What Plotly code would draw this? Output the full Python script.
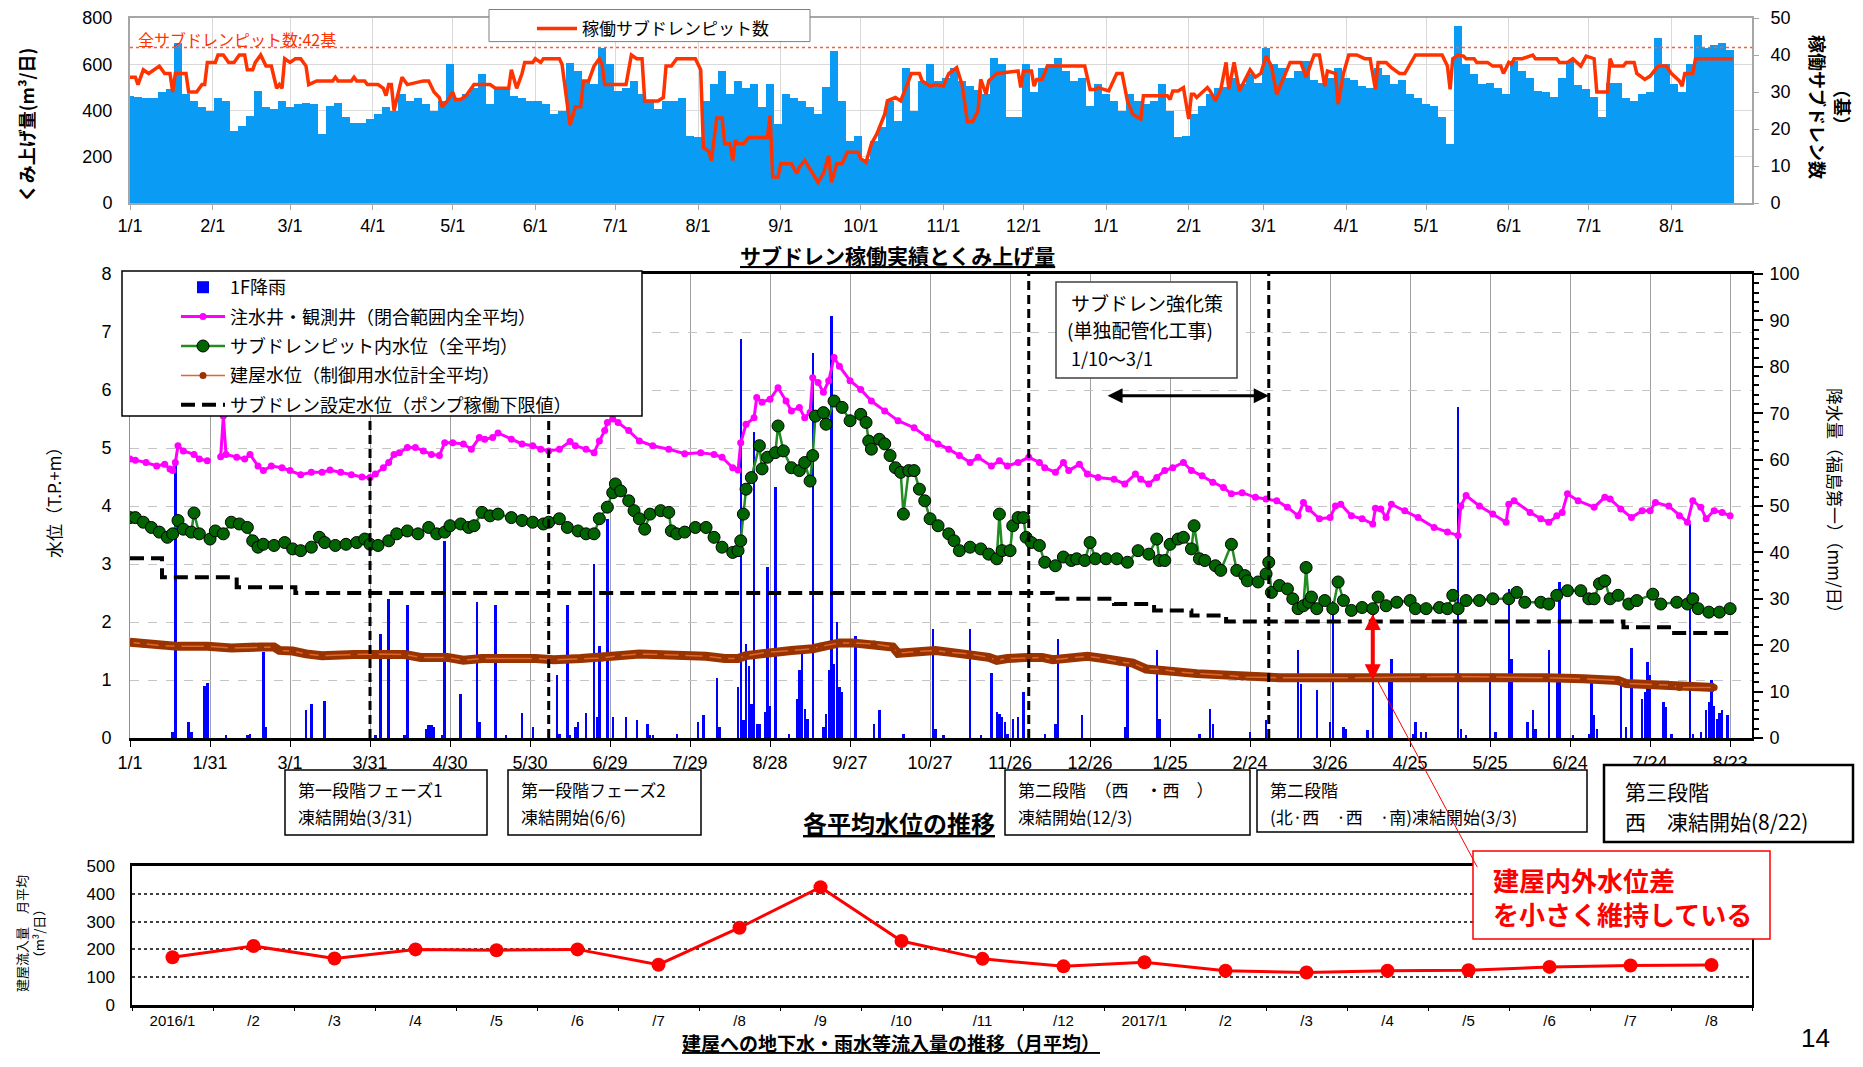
import pandas as pd
import plotly.graph_objects as go

W, H = 1863, 1067          # browser window
OFF = 8                    # default page body margin
FW, FH = W - 2 * OFF, H - 2 * OFF
JP = "Noto Sans CJK JP"
NUM = "Liberation Sans, Arial, sans-serif"
BASE = pd.Timestamp("2016-01-01")
DAY_MS = 86400000


def dates(days):
    return [BASE + pd.Timedelta(days=d) for d in days]


def px(x):
    return (x - OFF) / FW


def py(y):
    return 1 - (y - OFF) / FH


# ---------------- top chart: pumped volume (3-day samples) and running pits ----------------
pump_m3 = [463, 460, 455, 456, 480, 495, 690, 470, 441, 413,
           400, 456, 441, 310, 334, 377, 485, 413, 406, 441,
           413, 427, 434, 427, 298, 420, 434, 370, 348, 348,
           363, 384, 413, 399, 470, 441, 456, 427, 399, 441,
           600, 456, 470, 499, 556, 427, 499, 499, 463, 456,
           441, 441, 427, 384, 399, 607, 571, 528, 513, 671,
           600, 485, 499, 528, 470, 441, 406, 441, 441, 456,
           291, 284, 441, 513, 571, 470, 528, 499, 513, 413,
           513, 341, 470, 456, 441, 413, 384, 500, 657, 441,
           270, 290, 190, 270, 327, 441, 356, 585, 400, 528,
           600, 528, 542, 585, 528, 507, 490, 470, 628, 600,
           370, 370, 600, 480, 585, 600, 628, 571, 528, 540,
           420, 513, 470, 441, 399, 470, 440, 427, 441, 513,
           399, 284, 291, 384, 420, 470, 499, 500, 542, 513,
           556, 520, 671, 600, 585, 540, 571, 614, 530, 520,
           540, 585, 540, 530, 505, 499, 585, 555, 515, 530,
           470, 456, 427, 420, 370, 255, 764, 600, 560, 513,
           520, 499, 470, 614, 571, 540, 485, 480, 460, 540,
           614, 510, 495, 460, 370, 520, 520, 456, 440, 470,
           480, 714, 600, 513, 480, 600, 728, 670, 685, 690,
           660]
pump_dates = pd.date_range("2016-01-01", periods=len(pump_m3), freq="3D")

pits_day = [0, 2, 3, 5, 7, 9, 11, 13, 15, 16, 17, 21, 22, 25, 27, 28, 29, 32, 33, 35, 37, 39, 41, 43, 44, 46,
            47, 49, 51, 53, 55, 56, 57, 58, 60, 62, 64, 66, 67, 70, 76, 77, 78, 83, 84, 85, 88, 89, 93, 95, 96,
            97, 98, 99, 100, 101, 102, 103, 104, 110, 112, 114, 116, 117, 119, 121, 122, 124, 126, 127, 129,
            135, 137, 142, 143, 145, 147, 148, 151, 152, 154, 155, 161, 162, 164, 165, 167, 169, 170, 172, 174,
            176, 177, 178, 186, 188, 190, 192, 193, 198, 200, 201, 203, 205, 212, 214, 215, 217, 218, 220, 222,
            223, 225, 226, 227, 228, 230, 232, 239, 240, 241, 243, 244, 248, 250,
            251, 253, 256, 258, 260, 262, 263, 265, 267, 269, 273, 274, 276, 278, 280, 282, 283, 284, 287, 289,
            291, 293, 296, 297, 300, 302, 305, 307, 310, 312, 314, 316, 318, 319, 321, 322, 325, 333, 334, 335,
            338, 339, 340, 342, 344, 358, 360, 362, 363, 367, 370, 372, 374, 376, 379, 380, 389, 390, 391, 393,
            395, 397, 398, 399, 400, 404, 405, 407, 409, 411, 412, 414, 416, 418, 420, 422, 424, 426, 428, 430,
            432, 435, 439, 441, 444, 446, 448, 449, 452, 453, 455, 457, 460, 463, 465, 467, 468, 471, 473, 476,
            478, 481, 482, 492, 494, 495, 496, 498, 500, 501, 504, 505, 509, 511, 514, 515, 517, 518, 519, 522,
            526, 527, 535, 536, 539, 541, 544, 546, 549, 550, 554, 555, 556, 560, 561, 564, 565, 568, 570, 573,
            576, 578, 581, 582, 583, 586, 587, 601]
pits_n = [34, 34, 32, 36, 35, 36, 37, 35, 35, 30, 35, 35, 30, 30, 32, 32, 38, 38, 40, 40, 38, 38, 40, 40, 36, 36,
          38, 40, 37, 37, 31, 32, 31, 39, 38, 39, 39, 37, 32, 33, 33, 34, 33, 33, 34, 33, 33, 32, 32, 31, 29,
          32, 32, 25, 27.6, 31, 34, 33, 32, 33, 33, 30, 28.5, 26, 27.6, 30, 28, 28, 29, 30, 32,
          32, 31, 31, 36, 31, 35, 38, 38, 39, 38, 39, 39, 37.5, 26, 21, 26, 26, 33, 33, 37,
          39, 37.5, 32, 32, 40, 39, 39, 27.6, 27.6, 28.5, 37, 37, 39, 39, 36, 15, 14, 11.5, 23, 23,
          16, 16, 11.5, 17, 16, 16, 17.7, 17.7, 23.6, 7, 7, 10.6, 10.6, 8,
          9.7, 11.5, 8, 5.6, 8, 12.8, 5.6, 10.6, 10.6, 13.7, 13.7, 12, 11, 16, 18.6, 22, 24, 27.6, 28.5, 27.6,
          31.6, 35, 35, 33, 31.6, 32, 31.6, 35, 36.6, 32, 22, 22, 25, 33.4, 29.4, 33, 35, 35.7, 31.2, 35.7,
          35.7, 31.6, 33.4, 33.4, 37, 37, 30.7, 30.7, 31.2, 30.3, 35, 35, 27.6, 24, 22.7, 29, 29, 28, 30.3, 30.3,
          31.2, 22.7, 29.4, 29.4, 28.5, 31.2, 30.3, 27.6, 30.7, 38, 30.7, 38, 30.3, 33, 36, 34, 35, 39.7, 37, 29.4,
          33, 38, 38, 34, 40, 40, 31.6, 35.7, 35, 26.7, 35, 40, 40, 39, 39, 30.7, 38, 38, 36.6, 35,
          35, 39, 40, 40, 37, 30.7, 39, 40, 39.7, 39, 39, 38, 38, 37, 37, 35, 38, 37.5, 39, 39,
          40, 39, 39, 38, 38, 39, 37, 39.7, 39, 30, 30, 39, 37, 37, 38, 38, 35, 33.4, 34.3, 37,
          37, 35, 33, 31.6, 35, 35, 39, 39]
total_pits = 42

top_tick_dates = ["2016-01-01", "2016-02-01", "2016-03-01", "2016-04-01", "2016-05-01", "2016-06-01",
                  "2016-07-01", "2016-08-01", "2016-09-01", "2016-10-01", "2016-11-01", "2016-12-01",
                  "2017-01-01", "2017-02-01", "2017-03-01", "2017-04-01", "2017-05-01", "2017-06-01",
                  "2017-07-01", "2017-08-01"]
top_tick_labels = ["1/1", "2/1", "3/1", "4/1", "5/1", "6/1", "7/1", "8/1", "9/1", "10/1", "11/1", "12/1",
                   "1/1", "2/1", "3/1", "4/1", "5/1", "6/1", "7/1", "8/1"]

# ---------------- middle chart: water levels and rainfall ----------------
inj_day = [0, 2, 6, 10, 13, 15, 16, 17, 18, 20, 24, 26, 29, 31, 34, 35, 36, 40, 43, 45, 48, 50, 53, 57, 60,
           64, 68, 72, 75, 79, 83, 87, 90, 92, 95, 97, 99, 101, 104, 107, 110, 113, 116, 118, 121, 125, 128,
           131, 133, 136, 138, 143, 147, 151, 154, 157, 161, 165, 167, 171, 174, 176, 178, 179, 181, 183, 187,
           191, 196, 202, 208, 214, 219, 222, 226, 228, 229, 231, 234, 235, 237, 240, 243, 246, 248, 251, 253,
           255, 256, 258, 260, 262, 264, 266, 270, 274, 278, 283, 288, 294, 299, 303, 307, 311, 315, 318, 323,
           326, 329, 333, 337, 341, 343, 347, 350, 352, 356, 359, 363, 369, 373, 377, 379, 382, 385, 388, 391,
           395, 398, 402, 406, 410, 413, 417, 422, 426, 430, 434, 438, 440, 442, 446, 450, 452, 454, 458, 462,
           466, 467, 469, 471, 473, 478, 483, 489, 494, 498, 499, 501, 506, 511, 516, 517, 519, 525, 529, 532,
           535, 537, 539, 543, 549, 553, 555, 559, 563, 567, 570, 572, 577, 581, 584, 586, 589, 591, 594, 597,
           600]
inj_level = [4.81, 4.79, 4.75, 4.69, 4.72, 4.64, 4.61, 4.75, 5.04, 4.95, 4.89, 4.81, 4.78, None, 4.85, 5.55,
             4.89, 4.84, 4.81, 4.89, 4.69, 4.61, 4.69, 4.66, 4.61, 4.54, 4.58, 4.58, 4.62, 4.58, 4.54, 4.50,
             4.49, 4.55, 4.66, 4.75, 4.89, 4.92, 5.01, 5.01, 4.95, 4.89, 4.87, 5.09, 5.09, 5.07, 4.98, 5.18,
             5.15, 5.18, 5.26, 5.15, 5.07, 5.04, 4.98, 4.95, 4.98, 5.11, 5.04, 4.98, 4.92, 5.12, 5.30, 5.44,
             5.50, 5.44, 5.30, 5.12, 5.04, 4.98, 4.90, 4.92, 4.89, 4.84, 4.66, 4.62, 5.09, 5.41, 5.52, 5.87,
             5.79, 5.84, 6.04, 5.81, 5.64, 5.70, 5.52, 5.61, 6.21, 6.13, 5.96, 6.16, 6.56, 6.41, 6.16, 6.01,
             5.81, 5.64, 5.47, 5.35, 5.18, 5.07, 4.98, 4.87, 4.75, 4.84, 4.69, 4.78, 4.69, 4.75, 4.84, 4.75,
             4.66, 4.58, 4.75, 4.61, 4.72, 4.55, 4.49, 4.46, 4.38, 4.55, 4.46, 4.38, 4.49, 4.61, 4.66, 4.75,
             4.61, 4.52, 4.41, 4.32, 4.21, 4.23, 4.15, 4.12, 4.09, 3.98, 3.83, 4.06, 3.95, 3.78, 3.80, 4.00,
             4.03, 3.83, 3.78, 3.69, 3.96, 3.95, 3.80, 4.03, 3.92, 3.80, 3.63, 3.55, 3.49, 4.00, 4.18, 4.00,
             3.86, 3.72, 4.03, 4.09, 3.89, 3.78, 3.72, 3.83, 3.89, 4.21, 4.09, 3.98, 4.15, 4.12, 3.95, 3.80,
             3.92, 3.92, 4.06, 4.00, 3.83, 3.72, 4.09, 3.98, 3.78, 3.92, 3.89, 3.83]

sd_day = [0, 2, 5, 8, 11, 14, 16, 18, 20, 23, 24, 26, 30, 32, 35, 38, 41, 44, 46, 48, 50, 54, 58, 61, 64,
          68, 71, 73, 77, 81, 85, 88, 90, 93, 97, 100, 104, 108, 112, 115, 118, 120, 124, 127, 129, 132, 135,
          138, 143, 147, 151, 155, 157, 161, 164, 168, 171, 174, 176, 179, 181, 182, 184, 187, 189, 191, 193,
          195, 199, 202, 203, 205, 208, 212, 216, 219, 222, 226, 228, 229, 230, 231, 233, 236, 237, 239, 242,
          243, 245, 248, 251, 253, 255, 256, 257, 260, 261, 264, 267, 270, 274, 276, 277, 278, 281, 283, 285,
          287, 289, 290, 292, 294, 296, 298, 300, 303, 307, 309, 311, 315, 319, 322, 325, 326, 327, 330, 331,
          333, 335, 336, 338, 341, 343, 347, 350, 353, 355, 358, 360, 362, 366, 370, 374, 378, 382, 385, 386,
          388, 390, 393, 395, 398, 399, 401, 403, 407, 409, 413, 415, 418, 419, 423, 426, 427, 428, 431, 434,
          436, 438, 440, 441, 442, 443, 445, 448, 451, 453, 455, 458, 462, 466, 468, 471, 475, 480, 482, 486,
          491, 494, 496, 498, 501, 506, 511, 517, 520, 523, 529, 532, 535, 539, 544, 547, 549, 551, 553, 555,
          558, 562, 565, 571, 574, 580, 584, 586, 588, 592, 596, 600]
sd_level = [3.80, 3.80, 3.72, 3.63, 3.55, 3.46, 3.52, 3.75, 3.60, 3.55, 3.88, 3.52, 3.43, 3.57, 3.52, 3.72,
            3.69, 3.63, 3.40, 3.29, 3.34, 3.32, 3.37, 3.26, 3.23, 3.29, 3.46, 3.37, 3.32, 3.34, 3.37, 3.43,
            3.34, 3.32, 3.40, 3.52, 3.57, 3.52, 3.63, 3.52, 3.55, 3.66, 3.69, 3.63, 3.66, 3.89, 3.83, 3.86,
            3.80, 3.75, 3.72, 3.69, 3.72, 3.78, 3.63, 3.57, 3.52, 3.52, 3.78, 3.98, 4.23, 4.38, 4.26, 4.09,
            3.92, 3.78, 3.60, 3.86, 3.92, 3.89, 3.57, 3.52, 3.55, 3.63, 3.63, 3.46, 3.29, 3.20, 3.23, 3.40,
            3.86, 4.29, 4.49, 5.04, 4.64, 4.84, 4.92, 5.38, 4.95, 4.66, 4.61, 4.75, 4.43, 4.87, 5.55, 5.61,
            5.41, 5.81, 5.70, 5.47, 5.58, 5.44, 5.12, 4.98, 5.15, 5.07, 4.87, 4.66, 4.58, 3.86, 4.61, 4.61,
            4.29, 4.09, 3.78, 3.66, 3.52, 3.40, 3.23, 3.29, 3.26, 3.17, 3.09, 3.86, 3.23, 3.23, 3.66, 3.80,
            3.80, 3.46, 3.37, 3.32, 3.03, 2.97, 3.12, 3.06, 3.09, 3.06, 3.37, 3.09, 3.09, 3.09, 3.03, 3.23,
            3.17, 3.43, 3.06, 3.06, 3.34, 3.43, 3.46, 3.26, 3.66, 3.09, 3.06, 2.97, 2.89, 3.34, 2.89, 2.80,
            2.71, 2.69, 2.83, 3.03, 2.51, 2.63, 2.57, 2.40, 2.23, 2.28, 2.94, 2.34, 2.43, 2.23, 2.37, 2.23,
            2.69, 2.37, 2.20, 2.25, 2.23, 2.43, 2.28, 2.34, 2.37, 2.23, 2.23, 2.25, 2.23, 2.46, 2.23, 2.37,
            2.37, 2.40, 2.40, 2.51, 2.34, 2.34, 2.31, 2.46, 2.54, 2.54, 2.40, 2.40, 2.66, 2.71, 2.40, 2.46,
            2.31, 2.37, 2.48, 2.31, 2.34, 2.31, 2.40, 2.23, 2.17, 2.17, 2.23]

bld_day = [0, 5, 12, 18, 29, 38, 49, 54, 56, 61, 66, 72, 84, 92, 103, 109, 119, 125, 132, 152, 159, 169, 177,
           183, 191, 199, 207, 216, 223, 228, 231, 239, 248, 256, 259, 266, 271, 279, 286, 288, 295, 302, 307,
           315, 322, 325, 329, 337, 342, 346, 353, 359, 365, 371, 376, 381, 387, 393, 400, 411, 417, 431, 458,
           485, 498, 511, 531, 545, 558, 561, 572, 578, 581, 594]
bld_level = [1.65, 1.62, 1.59, 1.58, 1.58, 1.55, 1.57, 1.57, 1.51, 1.50, 1.45, 1.42, 1.44, 1.45, 1.44, 1.39,
             1.39, 1.34, 1.37, 1.37, 1.35, 1.37, 1.38, 1.42, 1.45, 1.44, 1.42, 1.41, 1.37, 1.37, 1.42, 1.48,
             1.51, 1.54, 1.58, 1.64, 1.64, 1.62, 1.57, 1.46, 1.49, 1.51, 1.48, 1.45, 1.39, 1.34, 1.37, 1.39,
             1.39, 1.35, 1.38, 1.41, 1.37, 1.31, 1.29, 1.19, 1.18, 1.14, 1.11, 1.08, 1.05, 1.04, 1.04, 1.05,
             1.06, 1.05, 1.04, 1.02, 0.99, 0.94, 0.92, 0.91, 0.87, 0.87]

set_day = [0, 12, 40, 62, 346, 369, 384, 398, 411, 560, 579, 600]
set_level = [3.10, 2.77, 2.60, 2.50, 2.40, 2.31, 2.20, 2.11, 2.01, 1.91, 1.81, 1.81]

rain_day = [16, 17, 22, 23, 28, 29, 36, 44, 45, 50, 51, 66, 68, 73, 92, 94, 97, 103, 104, 111, 112, 113, 114,
            117, 118, 124, 130, 131, 137, 141, 147, 151, 157, 160, 161, 164, 165, 167, 168, 171, 174, 175, 176,
            179, 181, 186, 190, 194, 195, 196, 205, 213, 215, 220, 221, 228, 229, 230, 231, 232, 233, 234, 235,
            236, 238, 239, 240, 242, 247, 250, 251, 252, 253, 254, 256, 260, 261, 262, 263, 264, 265, 266, 267,
            272, 279, 281, 290, 301, 302, 305, 315, 319, 323, 325, 326, 327, 328, 329, 331, 333, 335, 343, 347,
            348, 357, 373, 374, 385, 386, 401, 405, 406, 420, 426, 438, 439, 445, 450, 451, 455, 456, 464, 466,
            472, 473, 481, 482, 484, 486, 498, 499, 501, 510, 512, 517, 518, 524, 526, 527, 532, 535, 536, 541,
            547, 548, 549, 550, 559, 561, 563, 567, 568, 569, 570, 575, 576, 578, 585, 586, 589, 591, 592, 593,
            594, 595, 596, 597, 599]
rain_mm = [1.3, 59.4, 3.4, 1.3, 11.3, 11.9, 0.6, 0.6, 0.9, 18.5, 2.4, 6.0, 7.4, 7.9, 0.6, 22.5, 30.0, 0.6,
           28.6, 2.0, 2.9, 2.7, 2.4, 0.6, 42.5, 9.5, 29.4, 3.4, 28.6, 0.6, 5.4, 2.4, 0.6, 13.5, 0.9, 28.6, 0.6,
           2.4, 3.4, 5.4, 37.5, 4.5, 19.9, 47.2, 4.5, 4.5, 3.9, 3.1, 0.6, 0.6, 0.9, 3.4, 4.9, 13.0, 2.4, 11.0,
           86.0, 3.8, 20.3, 15.6, 7.4, 65.9, 3.1, 3.1, 5.6, 36.8, 7.0, 54.0, 0.9, 8.5, 14.6, 18.5, 6.3, 4.2,
           82.9, 2.4, 5.2, 14.6, 91.0, 16.0, 25.0, 11.0, 9.9, 21.9, 3.1, 6.0, 0.9, 23.5, 2.0, 0.6, 23.5, 0.6,
           14.0, 5.6, 5.2, 4.5, 3.4, 0.9, 4.2, 4.5, 9.9, 0.9, 3.1, 21.4, 4.9, 2.4, 15.6, 18.9, 4.2, 0.9, 6.3,
           3.1, 1.3, 3.8, 18.9, 11.7, 10.4, 3.4, 29.6, 2.4, 2.0, 1.8, 28.2, 13.8, 17.1, 0.9, 3.4, 1.3, 1.3,
           71.4, 2.0, 0.6, 12.4, 1.3, 32.1, 17.1, 3.4, 6.0, 2.0, 18.9, 13.8, 33.6, 0.6, 0.9, 12.4, 4.9, 2.0,
           12.8, 2.4, 19.4, 8.5, 9.9, 16.4, 13.5, 7.7, 6.7, 0.9, 46.1, 0.9, 1.3, 6.0, 7.7, 12.4, 7.0, 4.2, 5.4,
           6.0, 4.9]

mid_tick_days = [0, 30, 60, 90, 120, 150, 180, 210, 240, 270, 300, 330, 360, 390, 420, 450, 480, 510, 540,
                 570, 600]
mid_tick_labels = ["1/1", "1/31", "3/1", "3/31", "4/30", "5/30", "6/29", "7/29", "8/28", "9/27", "10/27",
                   "11/26", "12/26", "1/25", "2/24", "3/26", "4/25", "5/25", "6/24", "7/24", "8/23"]

freeze_days = [90, 157, 337, 427]          # 3/31, 6/6, 12/3, 3/3
works_arrow_days = [366, 427]
works_arrow_level = 5.9
gap_arrow_day = 466
gap_arrow_levels = [2.14, 0.97]

# ---------------- bottom chart: monthly inflow ----------------
inflow_months = ["2016-01", "2016-02", "2016-03", "2016-04", "2016-05", "2016-06", "2016-07", "2016-08",
                 "2016-09", "2016-10", "2016-11", "2016-12", "2017-01", "2017-02", "2017-03", "2017-04",
                 "2017-05", "2017-06", "2017-07", "2017-08"]
inflow_labels = ["2016/1", "/2", "/3", "/4", "/5", "/6", "/7", "/8", "/9", "/10", "/11", "/12",
                 "2017/1", "/2", "/3", "/4", "/5", "/6", "/7", "/8"]
inflow_m3 = [172, 212, 167, 200, 197, 200, 145, 278, 424, 230, 166, 139, 154, 123, 117, 123, 125, 137, 142, 144]

# =====================================================================
fig = go.Figure()

fig.add_trace(go.Bar(x=pump_dates, y=pump_m3, width=3 * DAY_MS, marker=dict(color="#0A9BF5", line_width=0),
                     xaxis="x", yaxis="y", showlegend=False, hoverinfo="skip"))
fig.add_trace(go.Scatter(x=dates(pits_day), y=pits_n, mode="lines", name="稼働サブドレンピット数",
                         line=dict(color="#FF3300", width=3.5), xaxis="x", yaxis="y2", legend="legend2"))

fig.add_trace(go.Bar(x=dates(rain_day), y=rain_mm, width=0.9 * DAY_MS, name="1F降雨",
                     marker=dict(color="#0000FF", line_width=0), xaxis="x3", yaxis="y3",
                     legendgroup="g1", legendrank=1))
fig.add_trace(go.Scatter(x=dates(bld_day), y=bld_level, mode="lines", line=dict(color="#993300", width=9),
                         xaxis="x3", yaxis="y4", showlegend=False, hoverinfo="skip"))
fig.add_trace(go.Scatter(x=dates(bld_day), y=bld_level, mode="lines+markers", name="建屋水位（制御用水位計全平均）",
                         line=dict(color="#E0662A", width=1.5), marker=dict(color="#993300", size=7),
                         xaxis="x3", yaxis="y4", legendgroup="g4", legendrank=4))
fig.add_trace(go.Scatter(x=dates(set_day), y=set_level, mode="lines", line_shape="hv",
                         name="サブドレン設定水位（ポンプ稼働下限値）",
                         line=dict(color="black", width=4, dash="14px,7px"),
                         xaxis="x3", yaxis="y4", legendgroup="g5", legendrank=5))
fig.add_trace(go.Scatter(x=dates(inj_day), y=inj_level, mode="lines+markers", name="注水井・観測井（閉合範囲内全平均）",
                         line=dict(color="#FF00FF", width=3), marker=dict(color="#FF00FF", size=7),
                         connectgaps=False, xaxis="x3", yaxis="y4", legendgroup="g2", legendrank=2))
fig.add_trace(go.Scatter(x=dates(sd_day), y=sd_level, mode="lines+markers", name="サブドレンピット内水位（全平均）",
                         line=dict(color="#228B22", width=2.5),
                         marker=dict(color="#006400", size=12, line=dict(color="black", width=1)),
                         xaxis="x3", yaxis="y4", legendgroup="g3", legendrank=3))

fig.add_trace(go.Scatter(x=inflow_months, y=inflow_m3, mode="lines+markers", showlegend=False,
                         line=dict(color="#FF0000", width=3), marker=dict(color="#FF0000", size=14),
                         xaxis="x5", yaxis="y5"))

# ---------------- layout ----------------
xr = [BASE, BASE + pd.Timedelta(days=608.2)]
XD = [px(130), px(1752)]
tick_num = dict(family=NUM, size=18, color="black")

shapes = []
annotations = []

# total pits dotted line
shapes.append(dict(type="line", xref="x domain", x0=0, x1=1, yref="y2", y0=total_pits, y1=total_pits,
                   line=dict(color="#FF5A3C", width=1.5, dash="dot"), layer="above"))
# freeze start dashed lines
for d in freeze_days:
    shapes.append(dict(type="line", xref="x3", x0=dates([d])[0], x1=dates([d])[0], yref="y3 domain", y0=0, y1=1,
                       line=dict(color="black", width=3, dash="9px,5px"), layer="above"))


def rect(x0, y0, x1, y1, color="black", lw=1.0):
    shapes.append(dict(type="rect", xref="paper", yref="paper", x0=px(x0), x1=px(x1), y0=py(y1), y1=py(y0),
                       line=dict(color=color, width=lw), fillcolor="white", layer="above"))


def label(x, y, text, size, color="black", family=JP, anchor="left", angle=0):
    annotations.append(dict(xref="paper", yref="paper", x=px(x), y=py(y), text=text, showarrow=False,
                            xanchor=anchor, yanchor="middle", textangle=angle, borderpad=0,
                            font=dict(family=family, size=size, color=color)))


# legend boxes
rect(489, 9.5, 810, 41.6, color="#7F7F7F", lw=1)
rect(122, 271, 642, 416, color="black", lw=1.5)

# strengthening box
rect(1056, 282, 1237, 378, color="#404040", lw=1.5)
label(1070, 302, "サブドレン強化策", 19)
label(1066, 330, "(単独配管化工事)", 19)
label(1070, 358, "1/10～3/1", 18)

# phase boxes
rect(285, 770, 487, 835, lw=1.5)
label(297, 789, "第一段階フェーズ1", 17)
label(297, 816, "凍結開始(3/31)", 17)
rect(508, 770, 701, 835, lw=1.5)
label(520, 789, "第一段階フェーズ2", 17)
label(520, 816, "凍結開始(6/6)", 17)
rect(1005, 770, 1250, 835, lw=1.5)
label(1017, 789, "第二段階　（西　・西　）", 17)
label(1017, 816, "凍結開始(12/3)", 17)
rect(1257, 770, 1587, 832, lw=1.5)
label(1269, 789, "第二段階", 17)
label(1269, 816, "(北·西　·西　·南)凍結開始(3/3)", 17)
rect(1604, 765, 1853, 842, lw=2.5)
label(1624, 791, "第三段階", 21)
label(1624, 821, "西　凍結開始(8/22)", 21)

# red callout box
rect(1473, 851, 1770, 939, color="#FF0000", lw=1.5)
label(1492, 879, "<b>建屋内外水位差</b>", 26, color="#FF0000")
label(1492, 913, "<b>を小さく維持している</b>", 26, color="#FF0000")

# titles
label(897, 255, "<b><u>サブドレン稼働実績とくみ上げ量</u></b>", 21, anchor="center")
label(899, 822, "<b><u>各平均水位の推移</u></b>", 24, anchor="center")
label(891, 1042, "<b><u>建屋への地下水・雨水等流入量の推移（月平均）</u></b>", 19, anchor="center")
label(1815, 1038, "14", 26, family=NUM, anchor="center")
label(137, 39, "全サブドレンピット数:42基", 16, color="#FF3300")

# axis titles
label(26, 125, "<b>くみ上げ量(m³/日)</b>", 18, anchor="center", angle=-90)
label(1818, 107, "<b>稼働サブドレン数</b>", 18, anchor="center", angle=90)
label(1843, 107, "<b>（基）</b>", 18, anchor="center", angle=90)
label(53, 499, "水位（T.P.+m）", 17, anchor="center", angle=-90)
label(1836, 505, "降水量（福島第一）（mm/日）", 17, anchor="center", angle=90)
label(30, 934, "建屋流入量　月平均<br>（m³/日）", 13, anchor="center", angle=-90)

# arrows
wa = dates(works_arrow_days)
annotations.append(dict(xref="x3", yref="y4", x=wa[1], y=works_arrow_level, axref="x3", ayref="y4",
                        ax=wa[0], ay=works_arrow_level, text="", showarrow=True, arrowhead=2, startarrowhead=2,
                        arrowside="end+start", arrowwidth=3, arrowsize=1, startarrowsize=1, arrowcolor="black"))
ga = dates([gap_arrow_day])[0]
annotations.append(dict(xref="x3", yref="y4", x=ga, y=gap_arrow_levels[0], axref="x3", ayref="y4",
                        ax=ga, ay=gap_arrow_levels[1], text="", showarrow=True, arrowhead=2, startarrowhead=2,
                        arrowside="end+start", arrowwidth=4, arrowsize=0.8, startarrowsize=0.8,
                        arrowcolor="#FF0000"))
annotations.append(dict(xref="x3", yref="y4", x=dates([gap_arrow_day + 2])[0], y=gap_arrow_levels[1],
                        ax=100, ay=187, text="", showarrow=True, arrowhead=0, arrowwidth=1,
                        arrowcolor="#FF0000", standoff=0, startstandoff=0))

fig.update_layout(
    width=FW, height=FH, margin=dict(l=0, r=0, t=0, b=0, autoexpand=False),
    paper_bgcolor="white", plot_bgcolor="white",
    bargap=0, barmode="overlay",
    font=dict(family=JP, color="black"),
    xaxis=dict(domain=XD, anchor="y", type="date", range=xr, tickvals=top_tick_dates, ticktext=top_tick_labels,
               tickfont=tick_num, ticks="outside", ticklen=5, tickcolor="#A6A6A6",
               showgrid=True, gridcolor="#D9D9D9", gridwidth=1, showline=True, linecolor="#A6A6A6",
               linewidth=2, mirror=True, zeroline=False, automargin=False),
    yaxis=dict(domain=[py(203), py(18)], anchor="x", range=[0, 800], dtick=200, tickfont=tick_num,
               showgrid=True, gridcolor="#D9D9D9", showline=True, linecolor="#A6A6A6", linewidth=2,
               ticks="", zeroline=False, automargin=False, ticklabelstandoff=12),
    yaxis2=dict(overlaying="y", side="right", anchor="x", range=[0, 50], dtick=10, tickfont=tick_num,
                ticks="outside", ticklen=5, tickcolor="#A6A6A6", showgrid=False, showline=True,
                linecolor="#A6A6A6", linewidth=2, zeroline=False, automargin=False, ticklabelstandoff=8),
    xaxis3=dict(domain=XD, anchor="y3", type="date", range=xr, tickvals=dates(mid_tick_days),
                ticktext=mid_tick_labels, tickfont=tick_num, ticks="outside", ticklen=6, tickcolor="black",
                showgrid=True, gridcolor="#A0A0A0", gridwidth=1, showline=True, linecolor="black",
                linewidth=3, mirror=True, zeroline=False, automargin=False),
    yaxis3=dict(domain=[py(738), py(274)], anchor="x3", side="right", range=[0, 100], dtick=10,
                tickfont=tick_num, ticks="outside", ticklen=9, tickwidth=1.5, tickcolor="black",
                minor=dict(dtick=2, ticks="outside", ticklen=5, tickcolor="black", showgrid=False),
                showline=True, linecolor="black", linewidth=2, showgrid=False, zeroline=False,
                automargin=False, ticklabelstandoff=3),
    yaxis4=dict(overlaying="y3", anchor="x3", side="left", range=[0, 8], dtick=1, tickfont=tick_num,
                showgrid=True, gridcolor="#C4C4C4", griddash="dash", showline=True, linecolor="#909090",
                linewidth=1, ticks="", zeroline=False, automargin=False, ticklabelstandoff=14),
    xaxis5=dict(domain=[px(132), px(1752)], anchor="y5", type="category", tickvals=inflow_months,
                ticktext=inflow_labels, tickfont=dict(family=NUM, size=15, color="black"),
                ticks="outside", tickson="boundaries", ticklen=3, tickcolor="black", showgrid=False,
                showline=True, linecolor="black", linewidth=3, mirror=True, range=[-0.5, 19.5],
                automargin=False),
    yaxis5=dict(domain=[py(1005), py(866)], anchor="x5", range=[0, 500], dtick=100,
                tickfont=dict(family=NUM, size=17, color="black"), showgrid=True, gridcolor="#404040",
                griddash="dot", gridwidth=1.5, showline=True, linecolor="black", linewidth=1.5, mirror=True,
                ticks="", zeroline=False, automargin=False, ticklabelstandoff=12),
    legend=dict(x=px(176), y=py(269), xanchor="left", yanchor="top", bgcolor="rgba(0,0,0,0)", borderwidth=0,
                font=dict(family=JP, size=18, color="black"), itemwidth=44, traceorder="grouped",
                tracegroupgap=3),
    legend2=dict(x=px(532), y=py(11), xanchor="left", yanchor="top", bgcolor="rgba(0,0,0,0)", borderwidth=0,
                 font=dict(family=JP, size=17, color="black"), itemwidth=40),
    shapes=shapes,
    annotations=annotations,
    showlegend=True,
)

fig.write_html("out.html")
